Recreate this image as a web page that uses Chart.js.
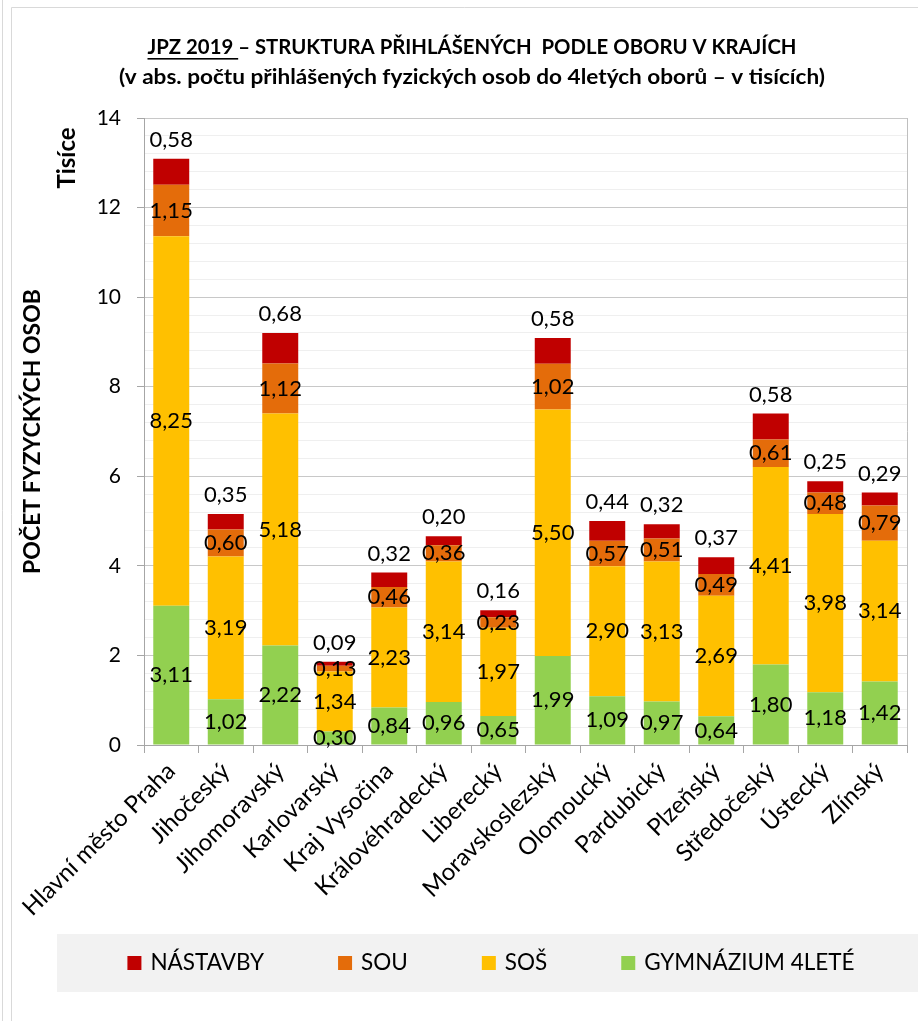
<!DOCTYPE html>
<html lang="cs">
<head>
<meta charset="utf-8">
<title>JPZ 2019 – struktura přihlášených podle oboru v krajích</title>
<script src="https://cdn.jsdelivr.net/npm/chart.js@4/dist/chart.umd.min.js"></script>
<style>
  html, body { margin: 0; padding: 0; background: #fff; }
  #wrap { width: 918px; height: 1021px; }
</style>
</head>
<body>
<div id="wrap"><canvas id="chart" width="918" height="1021"></canvas></div>
<script>
// Data (values in thousands)
const categories = ['Hlavní město Praha', 'Jihočeský', 'Jihomoravský', 'Karlovarský', 'Kraj Vysočina',
  'Královéhradecký', 'Liberecký', 'Moravskoslezský', 'Olomoucký', 'Pardubický', 'Plzeňský',
  'Středočeský', 'Ústecký', 'Zlínský'];
const gymnazium = [3.11, 1.02, 2.22, 0.30, 0.84, 0.96, 0.65, 1.99, 1.09, 0.97, 0.64, 1.80, 1.18, 1.42];
const sos       = [8.25, 3.19, 5.18, 1.34, 2.23, 3.14, 1.97, 5.50, 2.90, 3.13, 2.69, 4.41, 3.98, 3.14];
const sou       = [1.15, 0.60, 1.12, 0.13, 0.46, 0.36, 0.23, 1.02, 0.57, 0.51, 0.49, 0.61, 0.48, 0.79];
const nastavby  = [0.58, 0.35, 0.68, 0.09, 0.32, 0.20, 0.16, 0.58, 0.44, 0.32, 0.37, 0.58, 0.25, 0.29];
const yMax = 14;
const yMajorStep = 2;
const yMinorStep = 0.4;

const titleLines = [
  'JPZ 2019 – STRUKTURA PŘIHLÁŠENÝCH  PODLE OBORU V KRAJÍCH',
  '(v abs. počtu přihlášených fyzických osob do 4letých oborů – v tisících)'
];
const underlined = 'JPZ 2019 ';

const FONT = 'Lato, "Open Sans", sans-serif';
Chart.defaults.font.family = FONT;
Chart.defaults.color = '#000';

const fmt = v => v.toFixed(2).replace('.', ',');
const isMajor = v => Math.abs(v / yMajorStep - Math.round(v / yMajorStep)) < 1e-6;

// Values inside segments, the top series above the stack
const valueLabels = {
  id: 'valueLabels',
  afterDatasetsDraw(chart) {
    const ctx = chart.ctx;
    const last = chart.data.datasets.length - 1;
    ctx.save();
    ctx.font = `22px ${FONT}`;
    ctx.fillStyle = '#000';
    ctx.textAlign = 'center';
    ctx.textBaseline = 'middle';
    chart.data.datasets.forEach((ds, i) => {
      chart.getDatasetMeta(i).data.forEach((bar, j) => {
        const y = i === last ? bar.y - 19 : (bar.y + bar.base) / 2;
        ctx.fillText(fmt(ds.data[j]), bar.x, y);
      });
    });
    ctx.restore();
  }
};

// text stretched horizontally to a given width (the original title is wider than Lato)
function wideText(ctx, text, cx, cy, width) {
  const w = ctx.measureText(text).width;
  ctx.save();
  ctx.translate(cx, cy);
  ctx.scale(width / w, 1);
  ctx.fillText(text, 0, 0);
  ctx.restore();
  return width / w;
}

// Frame, title, "Tisíce" and the legend box
const decor = {
  id: 'decor',
  beforeDraw(chart) {
    const ctx = chart.ctx;
    ctx.save();
    ctx.fillStyle = '#fff';
    ctx.fillRect(0, 0, chart.width, chart.height);
    ctx.strokeStyle = '#d9d9d9';
    ctx.lineWidth = 1;
    ctx.beginPath();
    ctx.moveTo(2.5, 0); ctx.lineTo(2.5, chart.height);
    ctx.moveTo(11.5, chart.height); ctx.lineTo(11.5, 7.5); ctx.lineTo(chart.width, 7.5);
    ctx.stroke();
    ctx.restore();
  },
  afterDraw(chart) {
    const ctx = chart.ctx;
    const area = chart.chartArea;
    ctx.save();

    // right edge of the plot area
    ctx.strokeStyle = '#bfbfbf';
    ctx.lineWidth = 1;
    ctx.beginPath();
    ctx.moveTo(area.right + 0.5, area.top);
    ctx.lineTo(area.right + 0.5, area.bottom);
    ctx.stroke();

    // title
    const cx = 472;
    ctx.fillStyle = '#000';
    ctx.textAlign = 'center';
    ctx.textBaseline = 'middle';
    ctx.font = `bold 20px ${FONT}`;
    const w1 = 649;
    const k = wideText(ctx, titleLines[0], cx, 48, w1);
    const uw = ctx.measureText(underlined).width * k;
    ctx.fillRect(cx - w1 / 2, 58, uw, 1.6);
    wideText(ctx, titleLines[1], cx, 78, 706);

    // unit label
    ctx.save();
    ctx.translate(67, 158);
    ctx.rotate(-Math.PI / 2);
    ctx.font = `bold 24px ${FONT}`;
    ctx.fillText('Tisíce', 0, 0);
    ctx.restore();

    // legend
    ctx.fillStyle = '#f2f2f2';
    ctx.fillRect(57, 934, chart.width - 57, 58);
    ctx.font = `22.5px ${FONT}`;
    ctx.textAlign = 'left';
    const items = chart.data.datasets.slice().reverse();
    const box = 14, gap = 9, spacing = 74;
    const widths = items.map(ds => box + gap + ctx.measureText(ds.label).width);
    const total = widths.reduce((a, b) => a + b, 0) + spacing * (items.length - 1);
    let x = 491 - total / 2;
    const ly = 963;
    items.forEach((ds, i) => {
      ctx.fillStyle = ds.backgroundColor;
      ctx.fillRect(x, ly - box / 2, box, box);
      ctx.fillStyle = '#000';
      ctx.fillText(ds.label, x + box + gap, ly);
      x += widths[i] + spacing;
    });
    ctx.restore();
  }
};

const ctx = document.getElementById('chart').getContext('2d');
new Chart(ctx, {
  type: 'bar',
  data: {
    labels: categories,
    datasets: [
      { label: 'GYMNÁZIUM 4LETÉ', data: gymnazium, backgroundColor: '#92D050' },
      { label: 'SOŠ', data: sos, backgroundColor: '#FFC000' },
      { label: 'SOU', data: sou, backgroundColor: '#E46C0A' },
      { label: 'NÁSTAVBY', data: nastavby, backgroundColor: '#C00000' }
    ]
  },
  options: {
    responsive: false,
    animation: false,
    devicePixelRatio: 1,
    barPercentage: 0.66,
    categoryPercentage: 1,
    layout: { padding: { top: 118, left: 14, right: 11, bottom: 0 } },
    plugins: {
      legend: { display: false },
      title: { display: false },
      tooltip: { enabled: false }
    },
    scales: {
      x: {
        stacked: true,
        afterFit: scale => { scale.height = 276; },
        grid: { drawOnChartArea: false, drawTicks: true, tickLength: 8, color: '#a6a6a6' },
        border: { color: '#a6a6a6' },
        ticks: { font: { size: 24 }, color: '#000', minRotation: 45, maxRotation: 45, padding: 4, autoSkip: false }
      },
      y: {
        stacked: true,
        min: 0,
        max: yMax,
        afterFit: scale => { scale.width = 130; },
        border: { color: '#a6a6a6' },
        grid: {
          color: c => isMajor(c.tick.value) ? '#c8c8c8' : '#efefef',
          tickColor: c => isMajor(c.tick.value) ? '#a6a6a6' : 'rgba(0,0,0,0)',
          tickLength: 7
        },
        ticks: {
          stepSize: yMinorStep,
          maxTicksLimit: 40,
          autoSkip: false,
          font: { size: 21 },
          color: '#000',
          padding: 16,
          callback: v => isMajor(v) ? String(Math.round(v)) : ''
        },
        title: {
          display: true,
          text: 'POČET FYZYCKÝCH OSOB',
          font: { size: 23, weight: 'bold' },
          color: '#000',
          padding: { top: 5, bottom: 0 }
        }
      }
    }
  },
  plugins: [valueLabels, decor]
});
</script>
</body>
</html>
